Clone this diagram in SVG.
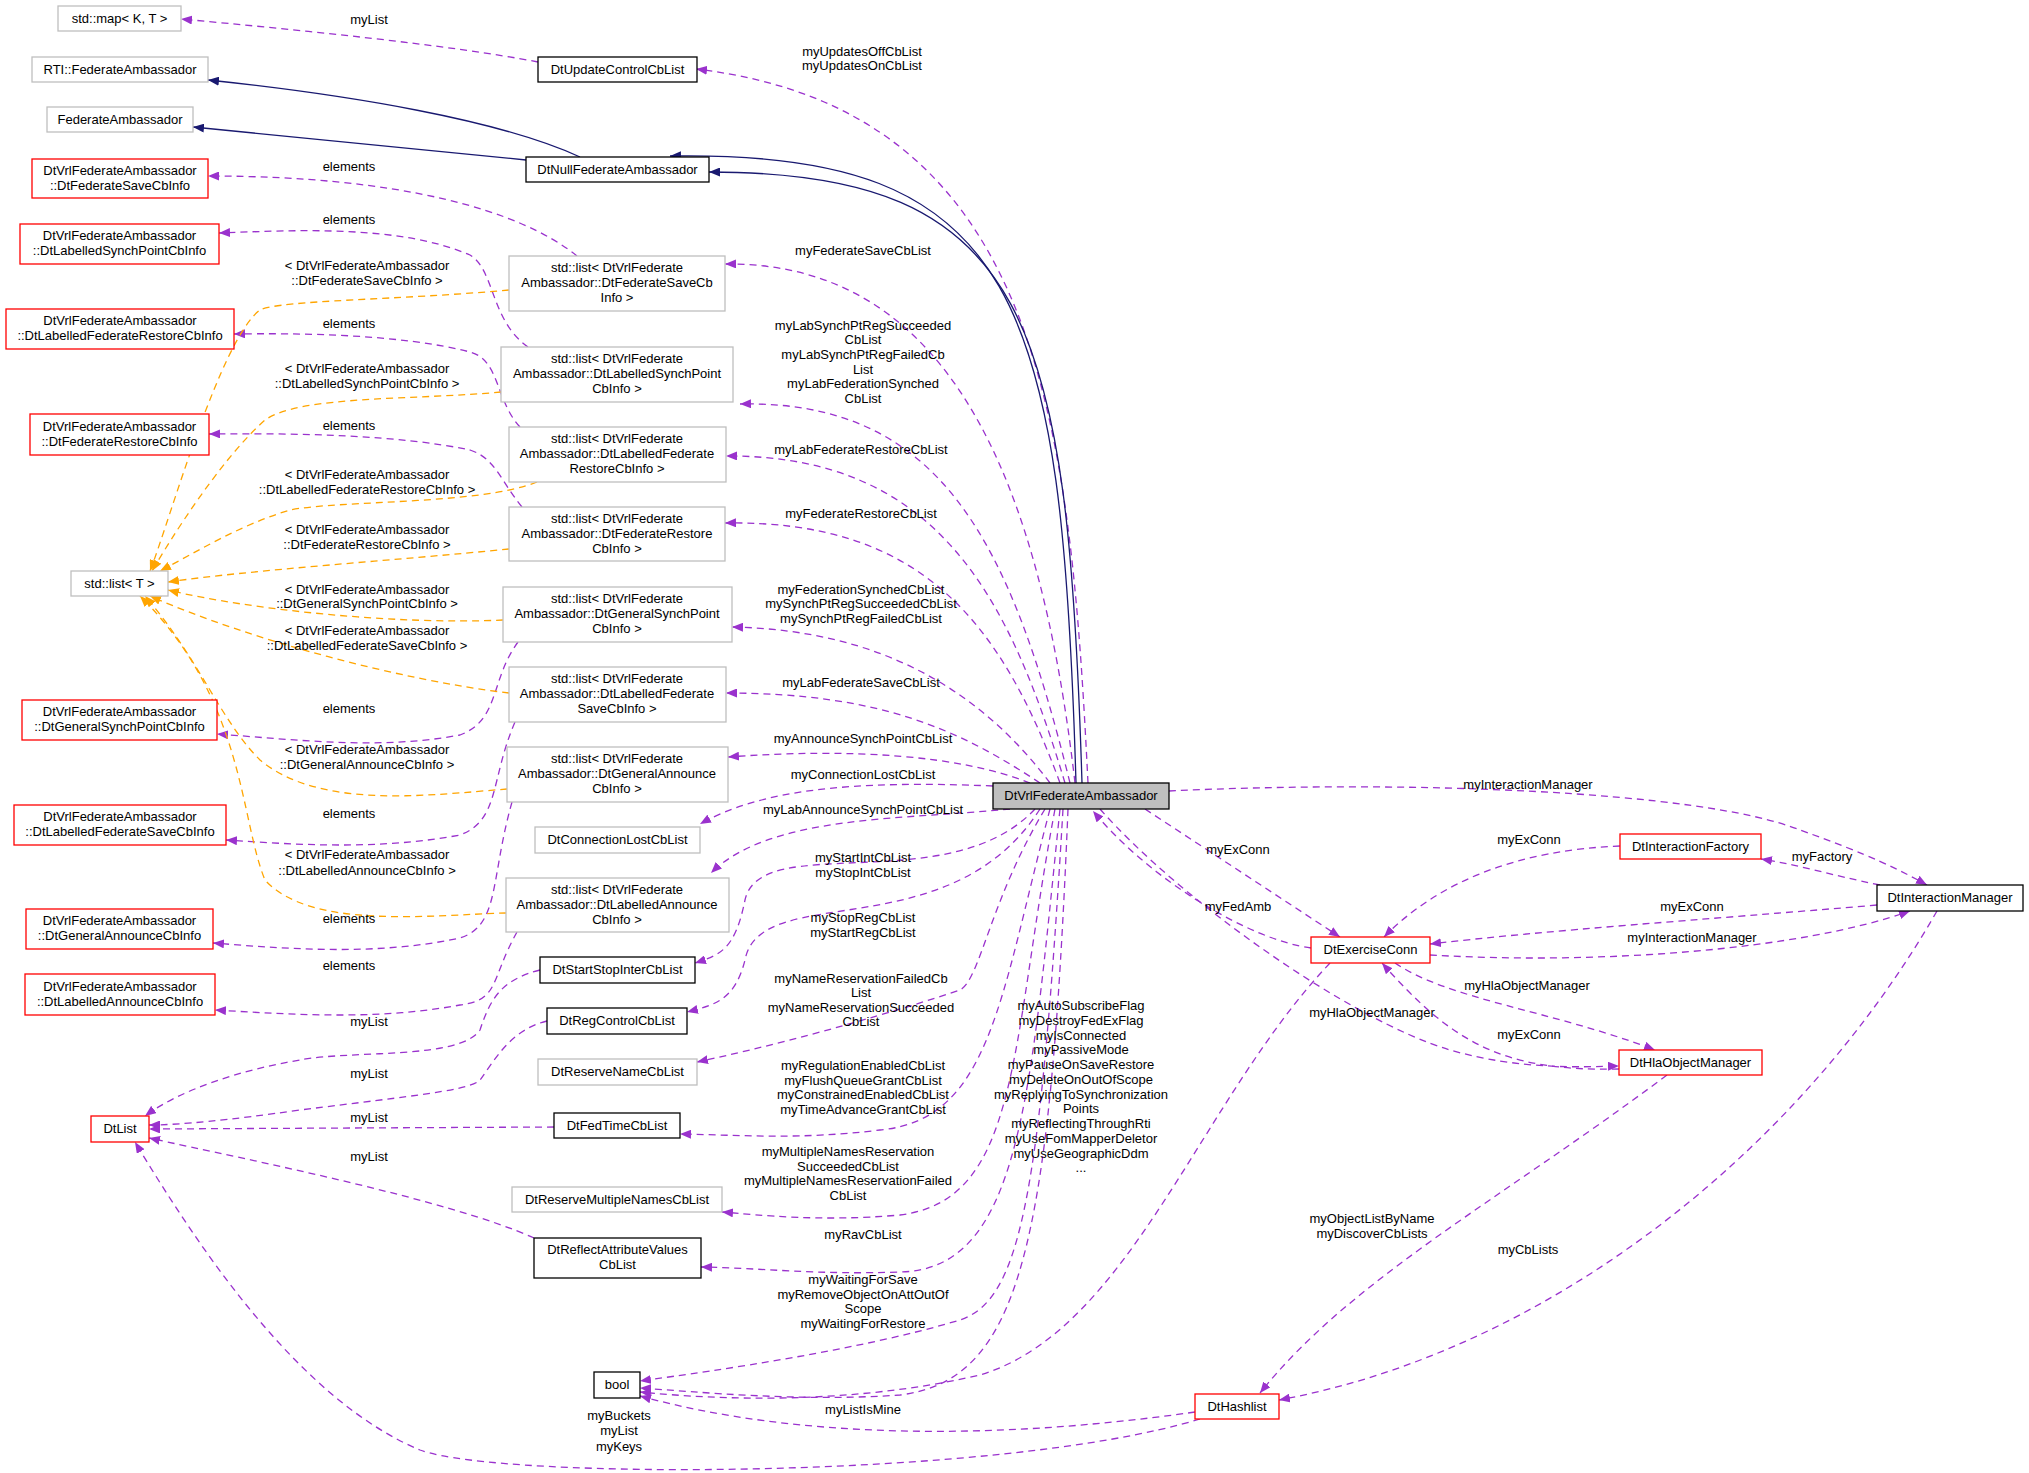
<svg xmlns="http://www.w3.org/2000/svg" width="2029" height="1473" viewBox="0 0 2029 1473">
<defs>
<style>
text{font-family:"Liberation Sans",Arial,sans-serif;font-size:13px;fill:#000}
.n text{text-anchor:middle}
.g{fill:#fff;stroke:#bfbfbf;stroke-width:1.3}
.r{fill:#fff;stroke:#ff0000;stroke-width:1.3}
.k{fill:#fff;stroke:#000;stroke-width:1.3}
.main{fill:#bfbfbf;stroke:#000;stroke-width:1.3}
.p{fill:none;stroke:#9a32cd;stroke-width:1.3;stroke-dasharray:7,5;marker-end:url(#ap)}
.o{fill:none;stroke:#ffa500;stroke-width:1.3;stroke-dasharray:7,5;marker-end:url(#ao)}
.b{fill:none;stroke:#191970;stroke-width:1.3;marker-end:url(#ab)}
.lbl text{text-anchor:middle}
</style>
<marker id="ap" markerUnits="userSpaceOnUse" markerWidth="12" markerHeight="9" refX="11" refY="4.5" orient="auto"><path d="M0,0 L11,4.5 L0,9 z" fill="#9a32cd"/></marker>
<marker id="ao" markerUnits="userSpaceOnUse" markerWidth="12" markerHeight="9" refX="11" refY="4.5" orient="auto"><path d="M0,0 L11,4.5 L0,9 z" fill="#ffa500"/></marker>
<marker id="ab" markerUnits="userSpaceOnUse" markerWidth="12" markerHeight="9" refX="11" refY="4.5" orient="auto"><path d="M0,0 L11,4.5 L0,9 z" fill="#191970"/></marker>
</defs>
<rect width="2029" height="1473" fill="#fff"/>
<g id="connectors">
<path class="p" d="M538,62 C450,45 300,30 181,19"/>
<path class="p" d="M1088,783 C1070,420 1040,110 696,69"/>
<path class="b" d="M1076,783 C1062,300 1020,150 670,156"/>
<path class="b" d="M1082,783 C1068,320 1030,172 709,172"/>
<path class="b" d="M580,157 C500,120 350,95 208,80"/>
<path class="b" d="M526,160 L193,127"/>
<path class="p" d="M1075,783 C1040,480 950,262 725,264"/>
<path class="p" d="M1070,783 C1010,540 940,400 740,404"/>
<path class="p" d="M1065,783 C1010,600 940,455 726,456"/>
<path class="p" d="M1060,783 C1000,620 920,520 725,523"/>
<path class="p" d="M1050,783 C980,690 880,630 732,627"/>
<path class="p" d="M1040,783 C960,730 880,693 726,693"/>
<path class="p" d="M1030,783 C960,755 850,748 728,757"/>
<path class="p" d="M993,786 C850,780 760,790 700,824"/>
<path class="p" d="M1010,809 C900,820 770,815 711,873"/>
<path class="p" d="M1035,809 C950,900 760,830 745,900 C735,950 720,955 695,963"/>
<path class="p" d="M1040,809 C950,950 760,880 745,960 C735,1000 715,1005 687,1012"/>
<path class="p" d="M1045,809 C990,900 980,980 960,990 C900,1010 800,1040 697,1062"/>
<path class="p" d="M1050,809 C1000,1000 990,1120 880,1130 C800,1140 740,1135 680,1134"/>
<path class="p" d="M1055,809 C1010,1050 1020,1200 900,1215 C820,1222 760,1215 722,1212"/>
<path class="p" d="M1060,809 C1030,1100 1020,1270 900,1272 C820,1275 760,1268 701,1267"/>
<path class="p" d="M1063,809 C1040,1200 1020,1300 960,1320 C860,1350 720,1370 640,1381"/>
<path class="p" d="M1068,809 C1050,1250 1020,1380 900,1395 C800,1402 700,1392 640,1388"/>
<path class="p" d="M1330,963 C1200,1100 1130,1330 980,1375 C850,1405 720,1400 640,1392"/>
<path class="p" d="M1195,1412 C1000,1440 800,1440 640,1396"/>
<path class="p" d="M1200,1419 C1000,1480 500,1480 420,1450 C300,1400 200,1250 135,1142"/>
<path class="p" d="M1169,791 C1400,780 1700,790 1800,830 C1870,855 1900,870 1927,885"/>
<path class="p" d="M1145,809 L1340,937"/>
<path class="p" d="M1311,948 C1250,940 1150,880 1093,811"/>
<path class="p" d="M1100,809 C1180,900 1350,1020 1450,1050 C1520,1070 1580,1067 1619,1066"/>
<path class="p" d="M1395,963 C1450,1000 1550,1010 1655,1050"/>
<path class="p" d="M1619,1069 C1500,1072 1450,1040 1382,963"/>
<path class="p" d="M1620,846 C1520,850 1440,880 1384,937"/>
<path class="p" d="M1880,885 C1830,875 1800,865 1761,859"/>
<path class="p" d="M1877,905 C1700,920 1550,930 1430,944"/>
<path class="p" d="M1430,955 C1600,965 1800,950 1910,911"/>
<path class="p" d="M1667,1075 C1500,1200 1350,1280 1260,1393"/>
<path class="p" d="M1937,911 C1800,1150 1550,1350 1279,1400"/>
<path class="p" d="M577,256 C520,210 400,176 208,176"/>
<path class="p" d="M528,347 C490,320 495,270 470,255 C400,225 300,230 219,233"/>
<path class="p" d="M520,427 C495,400 500,360 470,352 C400,334 300,333 234,334"/>
<path class="p" d="M522,507 C500,480 495,458 470,450 C400,435 300,433 209,434"/>
<path class="p" d="M518,642 C490,680 500,720 460,735 C380,750 300,740 217,734"/>
<path class="p" d="M515,722 C490,780 500,820 460,835 C380,850 300,845 226,840"/>
<path class="p" d="M512,802 C490,880 500,925 460,938 C380,955 300,950 213,943"/>
<path class="p" d="M517,932 C490,980 500,1000 460,1005 C380,1020 300,1015 215,1010"/>
<path class="o" d="M509,290 C400,300 280,300 260,310 C220,340 170,520 150,571"/>
<path class="o" d="M501,392 C420,400 300,395 265,420 C220,460 170,540 152,571"/>
<path class="o" d="M537,482 C480,505 340,500 290,510 C240,525 200,550 160,571"/>
<path class="o" d="M509,549 C400,560 250,570 168,582"/>
<path class="o" d="M503,620 C400,625 250,610 168,590"/>
<path class="o" d="M509,693 C400,680 250,640 150,596"/>
<path class="o" d="M507,789 C430,795 320,810 260,760 C220,720 200,660 145,596"/>
<path class="o" d="M506,913 C430,915 310,930 265,880 C240,820 245,700 140,596"/>
<path class="p" d="M540,970 C500,980 490,1000 480,1030 C460,1060 350,1050 300,1060 C240,1070 180,1090 145,1116"/>
<path class="p" d="M547,1021 C510,1030 495,1060 480,1080 C470,1090 420,1095 300,1110 C230,1120 180,1125 149,1125"/>
<path class="p" d="M554,1127 L149,1129"/>
<path class="p" d="M534,1238 C450,1200 250,1160 149,1138"/>
</g>
<g class="lbl">
<text x="369" y="24">myList</text>
<text x="862" y="56">myUpdatesOffCbList</text><text x="862" y="70">myUpdatesOnCbList</text>
<text x="349" y="171">elements</text>
<text x="349" y="224">elements</text>
<text x="349" y="328">elements</text>
<text x="349" y="430">elements</text>
<text x="349" y="713">elements</text>
<text x="349" y="818">elements</text>
<text x="349" y="923">elements</text>
<text x="349" y="970">elements</text>
<text x="367" y="270">&lt; DtVrlFederateAmbassador</text><text x="367" y="285">::DtFederateSaveCbInfo &gt;</text>
<text x="367" y="373">&lt; DtVrlFederateAmbassador</text><text x="367" y="388">::DtLabelledSynchPointCbInfo &gt;</text>
<text x="367" y="479">&lt; DtVrlFederateAmbassador</text><text x="367" y="494">::DtLabelledFederateRestoreCbInfo &gt;</text>
<text x="367" y="534">&lt; DtVrlFederateAmbassador</text><text x="367" y="549">::DtFederateRestoreCbInfo &gt;</text>
<text x="367" y="594">&lt; DtVrlFederateAmbassador</text><text x="367" y="608">::DtGeneralSynchPointCbInfo &gt;</text>
<text x="367" y="635">&lt; DtVrlFederateAmbassador</text><text x="367" y="650">::DtLabelledFederateSaveCbInfo &gt;</text>
<text x="367" y="754">&lt; DtVrlFederateAmbassador</text><text x="367" y="769">::DtGeneralAnnounceCbInfo &gt;</text>
<text x="367" y="859">&lt; DtVrlFederateAmbassador</text><text x="367" y="875">::DtLabelledAnnounceCbInfo &gt;</text>
<text x="369" y="1026">myList</text>
<text x="369" y="1078">myList</text>
<text x="369" y="1122">myList</text>
<text x="369" y="1161">myList</text>
<text x="619" y="1420">myBuckets</text><text x="619" y="1435">myList</text><text x="619" y="1451">myKeys</text>
<text x="863" y="255">myFederateSaveCbList</text>
<text x="863" y="330">myLabSynchPtRegSucceeded</text><text x="863" y="344">CbList</text><text x="863" y="359">myLabSynchPtRegFailedCb</text><text x="863" y="374">List</text><text x="863" y="388">myLabFederationSynched</text><text x="863" y="403">CbList</text>
<text x="861" y="454">myLabFederateRestoreCbList</text>
<text x="861" y="518">myFederateRestoreCbList</text>
<text x="861" y="594">myFederationSynchedCbList</text><text x="861" y="608">mySynchPtRegSucceededCbList</text><text x="861" y="623">mySynchPtRegFailedCbList</text>
<text x="861" y="687">myLabFederateSaveCbList</text>
<text x="863" y="743">myAnnounceSynchPointCbList</text>
<text x="863" y="779">myConnectionLostCbList</text>
<text x="863" y="814">myLabAnnounceSynchPointCbList</text>
<text x="863" y="862">myStartIntCbList</text><text x="863" y="877">myStopIntCbList</text>
<text x="863" y="922">myStopRegCbList</text><text x="863" y="937">myStartRegCbList</text>
<text x="861" y="983">myNameReservationFailedCb</text><text x="861" y="997">List</text><text x="861" y="1012">myNameReservationSucceeded</text><text x="861" y="1026">CbList</text>
<text x="863" y="1070">myRegulationEnabledCbList</text><text x="863" y="1085">myFlushQueueGrantCbList</text><text x="863" y="1099">myConstrainedEnabledCbList</text><text x="863" y="1114">myTimeAdvanceGrantCbList</text>
<text x="848" y="1156">myMultipleNamesReservation</text><text x="848" y="1171">SucceededCbList</text><text x="848" y="1185">myMultipleNamesReservationFailed</text><text x="848" y="1200">CbList</text>
<text x="863" y="1239">myRavCbList</text>
<text x="863" y="1284">myWaitingForSave</text><text x="863" y="1299">myRemoveObjectOnAttOutOf</text><text x="863" y="1313">Scope</text><text x="863" y="1328">myWaitingForRestore</text>
<text x="1081" y="1010">myAutoSubscribeFlag</text><text x="1081" y="1025">myDestroyFedExFlag</text><text x="1081" y="1040">myIsConnected</text><text x="1081" y="1054">myPassiveMode</text><text x="1081" y="1069">myPauseOnSaveRestore</text><text x="1081" y="1084">myDeleteOnOutOfScope</text><text x="1081" y="1099">myReplyingToSynchronization</text><text x="1081" y="1113">Points</text><text x="1081" y="1128">myReflectingThroughRti</text><text x="1081" y="1143">myUseFomMapperDeletor</text><text x="1081" y="1158">myUseGeographicDdm</text><text x="1081" y="1172">...</text>
<text x="863" y="1414">myListIsMine</text>
<text x="1528" y="789">myInteractionManager</text>
<text x="1238" y="854">myExConn</text>
<text x="1238" y="911">myFedAmb</text>
<text x="1372" y="1017">myHlaObjectManager</text>
<text x="1527" y="990">myHlaObjectManager</text>
<text x="1529" y="1039">myExConn</text>
<text x="1529" y="844">myExConn</text>
<text x="1822" y="861">myFactory</text>
<text x="1692" y="911">myExConn</text>
<text x="1692" y="942">myInteractionManager</text>
<text x="1372" y="1223">myObjectListByName</text><text x="1372" y="1238">myDiscoverCbLists</text>
<text x="1528" y="1254">myCbLists</text>
</g>
<g class="n">
<g id="n_stdmap"><rect class="g" x="58" y="6" width="123" height="25"/><text x="119.5" y="23">std::map&lt; K, T &gt;</text></g>
<g id="n_rti"><rect class="g" x="32" y="57" width="176" height="25"/><text x="120" y="74">RTI::FederateAmbassador</text></g>
<g id="n_fedamb"><rect class="g" x="47" y="107" width="146" height="25"/><text x="120" y="124">FederateAmbassador</text></g>
<g id="n_r_savecb"><rect class="r" x="32" y="159" width="176" height="39"/><text x="120" y="175">DtVrlFederateAmbassador</text><text x="120" y="190">::DtFederateSaveCbInfo</text></g>
<g id="n_r_labsync"><rect class="r" x="20" y="224" width="199" height="40"/><text x="119.5" y="240">DtVrlFederateAmbassador</text><text x="119.5" y="255">::DtLabelledSynchPointCbInfo</text></g>
<g id="n_r_labrest"><rect class="r" x="6" y="309" width="228" height="40"/><text x="120" y="325">DtVrlFederateAmbassador</text><text x="120" y="340">::DtLabelledFederateRestoreCbInfo</text></g>
<g id="n_r_rest"><rect class="r" x="30" y="414" width="179" height="41"/><text x="119.5" y="431">DtVrlFederateAmbassador</text><text x="119.5" y="446">::DtFederateRestoreCbInfo</text></g>
<g id="n_stdlist"><rect class="g" x="71" y="571" width="97" height="25"/><text x="119.5" y="588">std::list&lt; T &gt;</text></g>
<g id="n_r_gensync"><rect class="r" x="22" y="700" width="195" height="40"/><text x="119.5" y="716">DtVrlFederateAmbassador</text><text x="119.5" y="731">::DtGeneralSynchPointCbInfo</text></g>
<g id="n_r_labsave"><rect class="r" x="14" y="805" width="212" height="40"/><text x="120" y="821">DtVrlFederateAmbassador</text><text x="120" y="836">::DtLabelledFederateSaveCbInfo</text></g>
<g id="n_r_genann"><rect class="r" x="26" y="909" width="187" height="40"/><text x="119.5" y="925">DtVrlFederateAmbassador</text><text x="119.5" y="940">::DtGeneralAnnounceCbInfo</text></g>
<g id="n_r_labann"><rect class="r" x="25" y="974" width="190" height="41"/><text x="120" y="991">DtVrlFederateAmbassador</text><text x="120" y="1006">::DtLabelledAnnounceCbInfo</text></g>
<g id="n_dtlist"><rect class="r" x="91" y="1116" width="58" height="26"/><text x="120" y="1133">DtList</text></g>
<g id="n_updctl"><rect class="k" x="538" y="57" width="159" height="25"/><text x="617.5" y="74">DtUpdateControlCbList</text></g>
<g id="n_nullfed"><rect class="k" x="526" y="157" width="183" height="25"/><text x="617.5" y="174">DtNullFederateAmbassador</text></g>
<g id="n_l_save"><rect class="g" x="509" y="256" width="216" height="55"/><text x="617" y="272">std::list&lt; DtVrlFederate</text><text x="617" y="287">Ambassador::DtFederateSaveCb</text><text x="617" y="302">Info &gt;</text></g>
<g id="n_l_labsync"><rect class="g" x="501" y="347" width="232" height="55"/><text x="617" y="363">std::list&lt; DtVrlFederate</text><text x="617" y="378">Ambassador::DtLabelledSynchPoint</text><text x="617" y="393">CbInfo &gt;</text></g>
<g id="n_l_labrest"><rect class="g" x="509" y="427" width="217" height="55"/><text x="617" y="443">std::list&lt; DtVrlFederate</text><text x="617" y="458">Ambassador::DtLabelledFederate</text><text x="617" y="473">RestoreCbInfo &gt;</text></g>
<g id="n_l_rest"><rect class="g" x="509" y="507" width="216" height="54"/><text x="617" y="523">std::list&lt; DtVrlFederate</text><text x="617" y="538">Ambassador::DtFederateRestore</text><text x="617" y="553">CbInfo &gt;</text></g>
<g id="n_l_gensync"><rect class="g" x="503" y="587" width="229" height="55"/><text x="617" y="603">std::list&lt; DtVrlFederate</text><text x="617" y="618">Ambassador::DtGeneralSynchPoint</text><text x="617" y="633">CbInfo &gt;</text></g>
<g id="n_l_labsave"><rect class="g" x="509" y="667" width="217" height="55"/><text x="617" y="683">std::list&lt; DtVrlFederate</text><text x="617" y="698">Ambassador::DtLabelledFederate</text><text x="617" y="713">SaveCbInfo &gt;</text></g>
<g id="n_l_genann"><rect class="g" x="507" y="747" width="221" height="55"/><text x="617" y="763">std::list&lt; DtVrlFederate</text><text x="617" y="778">Ambassador::DtGeneralAnnounce</text><text x="617" y="793">CbInfo &gt;</text></g>
<g id="n_connlost"><rect class="g" x="535" y="827" width="165" height="26"/><text x="617.5" y="844">DtConnectionLostCbList</text></g>
<g id="n_l_labann"><rect class="g" x="506" y="878" width="223" height="54"/><text x="617" y="894">std::list&lt; DtVrlFederate</text><text x="617" y="909">Ambassador::DtLabelledAnnounce</text><text x="617" y="924">CbInfo &gt;</text></g>
<g id="n_startstop"><rect class="k" x="540" y="957" width="155" height="26"/><text x="617.5" y="974">DtStartStopInterCbList</text></g>
<g id="n_regctl"><rect class="k" x="547" y="1008" width="140" height="26"/><text x="617" y="1025">DtRegControlCbList</text></g>
<g id="n_resname"><rect class="g" x="538" y="1059" width="159" height="26"/><text x="617.5" y="1076">DtReserveNameCbList</text></g>
<g id="n_fedtime"><rect class="k" x="554" y="1113" width="126" height="25"/><text x="617" y="1130">DtFedTimeCbList</text></g>
<g id="n_resmult"><rect class="g" x="512" y="1187" width="210" height="25"/><text x="617" y="1204">DtReserveMultipleNamesCbList</text></g>
<g id="n_reflect"><rect class="k" x="534" y="1238" width="167" height="40"/><text x="617.5" y="1254">DtReflectAttributeValues</text><text x="617.5" y="1269">CbList</text></g>
<g id="n_bool"><rect class="k" x="594" y="1372" width="46" height="26"/><text x="617" y="1389">bool</text></g>
<g id="n_hashlist"><rect class="r" x="1195" y="1394" width="84" height="25"/><text x="1237" y="1411">DtHashlist</text></g>
<g id="n_vrl"><rect class="main" x="993" y="783" width="176" height="26"/><text x="1081" y="800">DtVrlFederateAmbassador</text></g>
<g id="n_ifactory"><rect class="r" x="1620" y="834" width="141" height="25"/><text x="1690.5" y="851">DtInteractionFactory</text></g>
<g id="n_imanager"><rect class="k" x="1877" y="885" width="146" height="26"/><text x="1950" y="902">DtInteractionManager</text></g>
<g id="n_exconn"><rect class="r" x="1311" y="937" width="119" height="26"/><text x="1370.5" y="954">DtExerciseConn</text></g>
<g id="n_hlaobj"><rect class="r" x="1619" y="1050" width="143" height="25"/><text x="1690.5" y="1067">DtHlaObjectManager</text></g>
</g>
</svg>
